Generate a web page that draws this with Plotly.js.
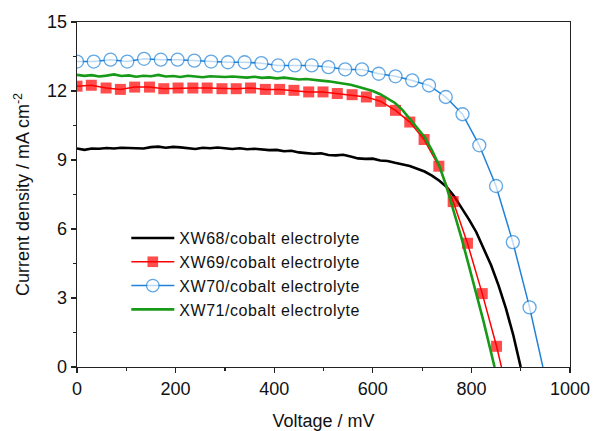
<!DOCTYPE html>
<html>
<head>
<meta charset="utf-8">
<script src="https://cdn.plot.ly/plotly-3.0.1.min.js"></script>
<style>
  html, body { margin: 0; padding: 0; background: #fff; }
  #chart { width: 593px; height: 431px; }
  #chart .legendtext { letter-spacing: 0.55px; }
  #chart .legend .scrollbox { clip-path: none !important; }
</style>
</head>
<body>
<div id="chart"></div>
<script>
// J–V curves of four dye-sensitised cells with cobalt electrolyte

// XW68 (dense measured trace)
const xw68V = [0,15,30,45,60,75,90,105,120,135,150,165,180,195,210,225,240,255,270,285,300,315,330,345,360,375,390,405,420,435,450,465,480,495,510,525,540,555,570,585,600,615,630,645,660,675,690,705,720,735,750,765,780,795,810,825,840,855,870,885,900];
const xw68J = [9.50,9.44,9.50,9.49,9.52,9.50,9.53,9.51,9.52,9.50,9.56,9.58,9.53,9.57,9.55,9.52,9.48,9.53,9.51,9.54,9.50,9.48,9.51,9.47,9.49,9.45,9.43,9.44,9.38,9.40,9.33,9.30,9.27,9.29,9.22,9.20,9.23,9.15,9.07,9.05,9.06,8.98,8.96,8.88,8.82,8.74,8.62,8.50,8.32,8.10,7.82,7.42,6.92,6.42,5.86,5.15,4.42,3.55,2.55,1.38,0.00];

// XW69 (square markers; final value is the open-circuit end of the line)
const xw69V = [0,29,59,88,117,147,176,205,235,264,294,323,352,382,411,440,470,499,528,558,587,616,646,675,704,734,763,792,822,851,861];
const xw69J = [12.21,12.25,12.13,12.07,12.17,12.17,12.10,12.13,12.13,12.13,12.10,12.10,12.13,12.07,12.07,12.03,11.96,11.96,11.89,11.84,11.74,11.55,11.16,10.65,9.89,8.73,7.19,5.38,3.19,0.90,0.00];

// XW70 (open circle markers; final value is the open-circuit end of the line)
const xw70V = [0,34,68,102,136,170,204,238,272,306,340,374,408,442,476,510,544,578,612,646,680,714,748,782,816,850,884,918,945];
const xw70J = [13.28,13.28,13.36,13.28,13.40,13.36,13.36,13.32,13.28,13.25,13.25,13.21,13.11,13.11,13.11,13.04,12.94,12.94,12.75,12.64,12.46,12.24,11.74,10.99,9.64,7.87,5.43,2.59,0.00];

// XW71 (dense measured trace)
const xw71V = [0,15,30,45,60,75,90,105,120,135,150,165,180,195,210,225,240,255,270,285,300,315,330,345,360,375,390,405,420,435,450,465,480,495,510,525,540,555,570,585,600,615,630,645,660,675,690,705,720,735,750,765,780,795,810,825,840,847];
const xw71J = [12.70,12.66,12.69,12.63,12.67,12.72,12.65,12.68,12.62,12.66,12.64,12.70,12.63,12.65,12.61,12.66,12.63,12.60,12.64,12.62,12.61,12.63,12.60,12.58,12.62,12.57,12.59,12.55,12.58,12.53,12.50,12.52,12.47,12.45,12.42,12.38,12.33,12.27,12.18,12.10,12.00,11.86,11.68,11.48,11.18,10.80,10.42,10.00,9.42,8.75,7.80,6.75,5.60,4.40,3.20,1.95,0.62,0.00];

const seriesNames = ['XW68/cobalt electrolyte', 'XW69/cobalt electrolyte', 'XW70/cobalt electrolyte', 'XW71/cobalt electrolyte'];

const xTicks = [0, 200, 400, 600, 800, 1000];
const yTicks = [0, 3, 6, 9, 12, 15];

// marker sizes: show a symbol at each measured point except the line's end at J = 0
function markerSizes(arr, size) {
  return arr.map((v, i) => (i === arr.length - 1 ? 0 : size));
}

const FONT = 'Liberation Sans, Arial, sans-serif';

const traces = [
  {
    x: xw68V, y: xw68J, name: seriesNames[0], type: 'scatter', mode: 'lines',
    line: { color: '#000000', width: 2.6 }
  },
  {
    x: xw69V, y: xw69J, name: seriesNames[1], type: 'scatter', mode: 'lines+markers',
    line: { color: '#ff0000', width: 1.5 },
    marker: { symbol: 'square', color: '#ff0000', size: markerSizes(xw69V, 11), line: { width: 0 } }
  },
  {
    x: xw70V, y: xw70J, name: seriesNames[2], type: 'scatter', mode: 'lines+markers',
    line: { color: '#1f82d8', width: 1.5 },
    marker: { symbol: 'circle', color: '#ffffff', size: markerSizes(xw70V, 13), line: { color: '#1f82d8', width: 1.3 } }
  },
  {
    x: xw71V, y: xw71J, name: seriesNames[3], type: 'scatter', mode: 'lines',
    line: { color: '#179a17', width: 2.6 }
  }
];

const axisCommon = {
  showline: true, mirror: true, linecolor: '#222', linewidth: 1.3,
  showgrid: false, zeroline: false,
  ticks: 'outside', ticklen: 5, tickwidth: 1.2, tickcolor: '#222',
  tickfont: { family: FONT, size: 18, color: '#111' },
  tickmode: 'array'
};

const layout = {
  width: 593, height: 431,
  margin: { l: 77, r: 23, t: 22, b: 64 },
  paper_bgcolor: '#fff', plot_bgcolor: '#fff',
  showlegend: true,
  xaxis: Object.assign({}, axisCommon, {
    range: [0, 1000], tickvals: xTicks, ticktext: xTicks.map(String),
    minor: { tickvals: [100, 300, 500, 700, 900], ticks: 'outside', ticklen: 3, tickcolor: '#222' },
    title: { text: 'Voltage / mV', font: { family: FONT, size: 18, color: '#111' }, standoff: 25 }
  }),
  yaxis: Object.assign({}, axisCommon, {
    range: [0, 15], tickvals: yTicks, ticktext: yTicks.map(String),
    minor: { tickvals: [1.5, 4.5, 7.5, 10.5, 13.5], ticks: 'outside', ticklen: 3, tickcolor: '#222' },
    title: { text: 'Current density / mA cm<sup>-2</sup>', font: { family: FONT, size: 18, color: '#111' }, standoff: 12 }
  }),
  legend: {
    x: 0.10, y: 0.423, xanchor: 'left', yanchor: 'top',
    bgcolor: 'rgba(0,0,0,0)', borderwidth: 0,
    font: { family: FONT, size: 16, color: '#111' },
    itemwidth: 43, tracegroupgap: 0
  }
};

Plotly.newPlot('chart', traces, layout, { displayModeBar: false, staticPlot: true });
</script>
</body>
</html>
